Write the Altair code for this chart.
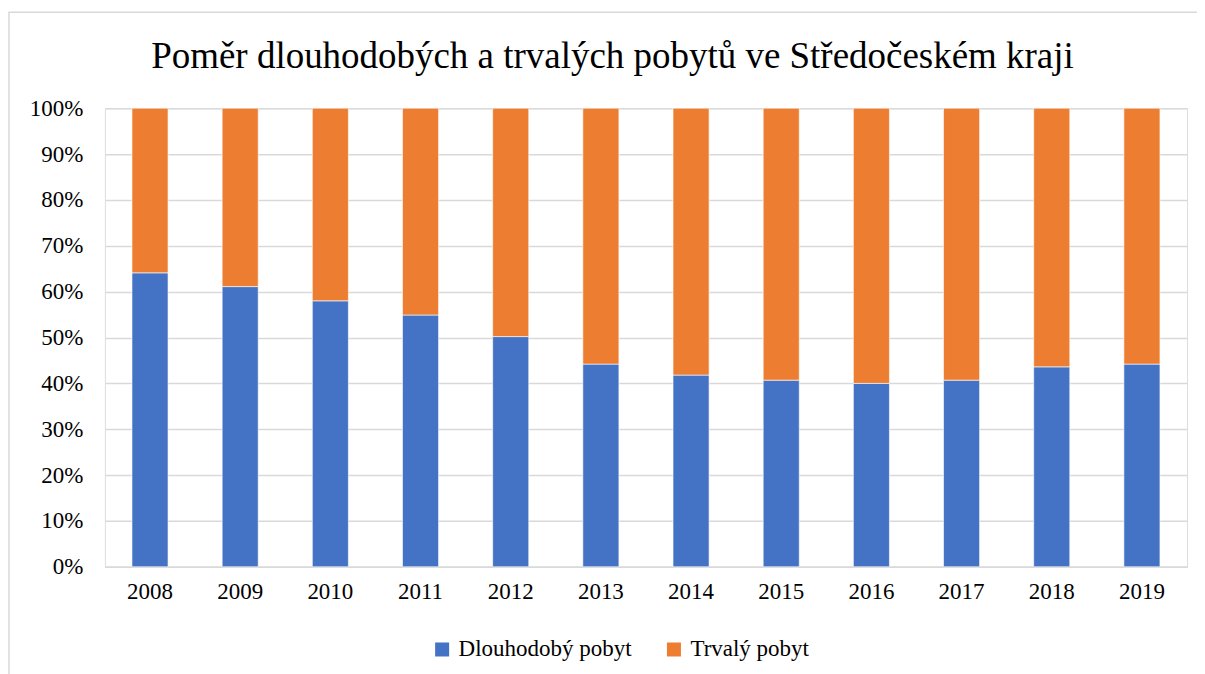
import altair as alt
import pandas as pd

years = ["2008", "2009", "2010", "2011", "2012", "2013", "2014", "2015", "2016", "2017", "2018", "2019"]
dlouhodoby = [64.1, 61.1, 58.0, 54.9, 50.2, 44.2, 41.8, 40.7, 40.0, 40.7, 43.6, 44.2]
trvaly = [35.9, 38.9, 42.0, 45.1, 49.8, 55.8, 58.2, 59.3, 60.0, 59.3, 56.4, 55.8]
series = ["Dlouhodobý pobyt", "Trvalý pobyt"]
colors = ["#4472C4", "#ED7D31"]
title_text = "Poměr dlouhodobých a trvalých pobytů ve Středočeském kraji"

rows = []
for i, y in enumerate(years):
    rows.append({"rok": y, "typ": series[0], "podil": dlouhodoby[i], "poradi": 0})
    rows.append({"rok": y, "typ": series[1], "podil": trvaly[i], "poradi": 1})
df = pd.DataFrame(rows)

FONT = "Liberation Serif"
W, H = 1083, 459

bars = alt.Chart(df).mark_bar(stroke="white", strokeWidth=0.6).encode(
    x=alt.X("rok:N", sort=years, title=None,
            scale=alt.Scale(paddingInner=0.6, paddingOuter=0.3),
            axis=alt.Axis(labelAngle=0, labelPadding=14, ticks=False, domainColor="#d9d9d9",
                          domainWidth=1.5, labelFont=FONT, labelFontSize=23, labelColor="#000000")),
    y=alt.Y("podil:Q", stack="normalize", title=None,
            scale=alt.Scale(domain=[0, 1]),
            axis=alt.Axis(format="%", values=[i / 10 for i in range(11)], domain=False, ticks=False,
                          labelPadding=22, labelFont=FONT, labelFontSize=23, labelColor="#000000",
                          gridColor="#d9d9d9", gridWidth=1.5)),
    color=alt.Color("typ:N", scale=alt.Scale(domain=series, range=colors),
                    legend=alt.Legend(title=None, orient="none", direction="horizontal",
                                      legendX=326, legendY=530, symbolType="square", symbolSize=196,
                                      symbolStrokeWidth=0, labelFont=FONT, labelFontSize=23,
                                      labelLimit=500, labelColor="#000000", columnPadding=30,
                                      labelOffset=5)),
    order=alt.Order("poradi:Q", sort="ascending"),
)

frame = alt.Chart(pd.DataFrame({"k": [0]})).mark_rect(fill=None, stroke="#d9d9d9", strokeWidth=1.5).encode(
    x=alt.value(-96), x2=alt.value(W + 12), y=alt.value(-96), y2=alt.value(H + 130)
)

title = alt.Chart(pd.DataFrame({"t": [title_text]})).mark_text(
    font=FONT, fontSize=37, color="#000000", align="center", baseline="alphabetic"
).encode(text="t:N", x=alt.value(508), y=alt.value(-40))

chart = alt.layer(frame, bars, title).properties(
    width=W, height=H,
    padding={"left": 97, "top": 100, "right": 10, "bottom": 107},
    autosize=alt.AutoSizeParams(type="none"),
).configure_view(stroke=None).configure(background="white")

chart.save("out.html", embed_options={"renderer": "svg", "actions": False})
